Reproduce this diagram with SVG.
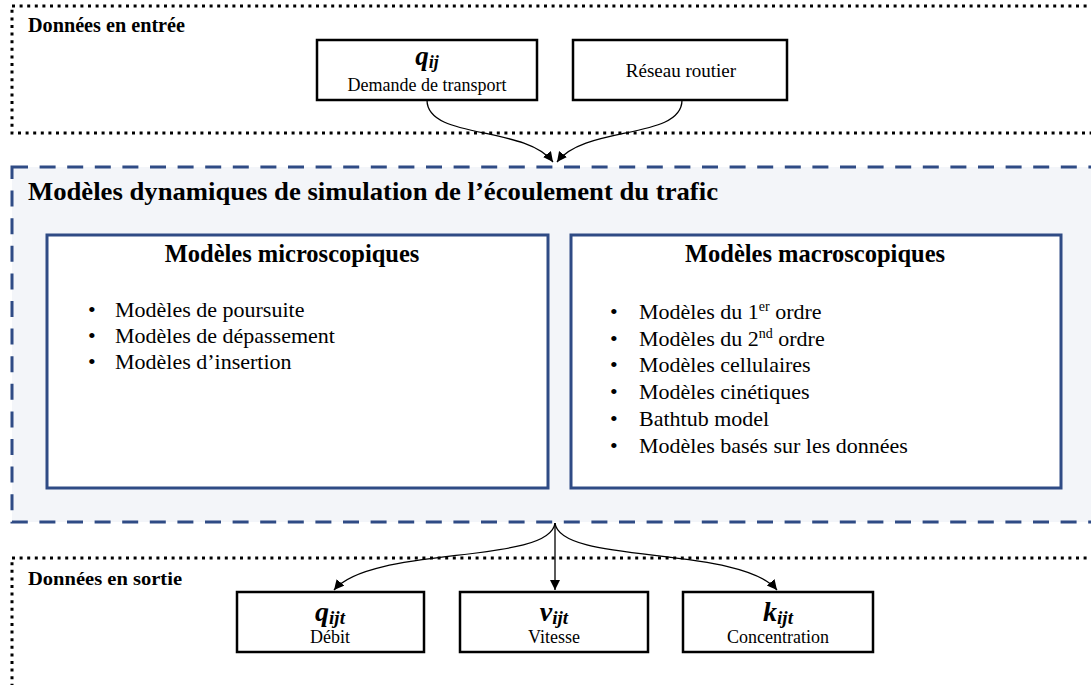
<svg xmlns="http://www.w3.org/2000/svg" width="1091" height="685" viewBox="0 0 1091 685">
<style>
.serif{font-family:"Liberation Serif","Times New Roman",serif;fill:#000}
.b{font-weight:bold}
.math{font-family:"Liberation Serif","Times New Roman",serif;font-weight:bold;font-style:italic;fill:#000}
.dot{fill:none;stroke:#000;stroke-width:3;stroke-dasharray:3 4.6}
.dash{fill:#F3F5F9;stroke:#2F4B85;stroke-width:3;stroke-dasharray:16 11.6}
.inner{fill:#fff;stroke:#2F4B85;stroke-width:3}
.node{fill:#fff;stroke:#000;stroke-width:2.5}
.conn{fill:none;stroke:#000;stroke-width:1.3}
.item{font-size:22px}
</style>
<defs>
<marker id="ah" markerWidth="12" markerHeight="12" refX="10" refY="5" orient="auto" markerUnits="userSpaceOnUse">
<path d="M0,0 L10,5 L0,10 Z" fill="#000"/>
</marker>
</defs>
<rect width="1091" height="685" fill="#fff"/>

<g id="input-zone">
<rect class="dot" x="12" y="6" width="1100" height="127"/>
<text class="serif b" x="28" y="32" font-size="20" textLength="157" lengthAdjust="spacingAndGlyphs">Données en entrée</text>
</g>

<g id="model-zone">
<rect class="dash" x="12" y="167" width="1100" height="355"/>
<text class="serif b" x="28" y="200" font-size="25" textLength="690" lengthAdjust="spacingAndGlyphs">Modèles dynamiques de simulation de l’écoulement du trafic</text>
</g>

<g id="output-zone">
<rect class="dot" x="12" y="558" width="1100" height="150"/>
<text class="serif b" x="28" y="585" font-size="19" textLength="154" lengthAdjust="spacingAndGlyphs">Données en sortie</text>
</g>

<g id="node-demande">
<rect class="node" x="317" y="40" width="220" height="60"/>
<text class="math" x="427" y="65" text-anchor="middle" font-size="27">q<tspan font-size="18" dy="3">ij</tspan></text>
<text class="serif" x="427" y="91" text-anchor="middle" font-size="18">Demande de transport</text>
</g>

<g id="node-reseau">
<rect class="node" x="573" y="40" width="214" height="60"/>
<text class="serif" x="681" y="77" text-anchor="middle" font-size="19">Réseau routier</text>
</g>

<g id="node-micro">
<rect class="inner" x="47" y="235" width="501" height="253"/>
<text class="serif b" x="292" y="262" text-anchor="middle" font-size="24.5">Modèles microscopiques</text>
<g class="serif item">
<text x="88" y="317">•</text><text x="115" y="317">Modèles de poursuite</text>
<text x="88" y="343">•</text><text x="115" y="343">Modèles de dépassement</text>
<text x="88" y="369">•</text><text x="115" y="369">Modèles d’insertion</text>
</g>
</g>

<g id="node-macro">
<rect class="inner" x="571" y="235" width="490" height="253"/>
<text class="serif b" x="815" y="262" text-anchor="middle" font-size="24.5">Modèles macroscopiques</text>
<g class="serif item">
<text x="610" y="319">•</text><text x="639" y="319">Modèles du 1<tspan font-size="14" dy="-8">er</tspan><tspan dy="8"> ordre</tspan></text>
<text x="610" y="346">•</text><text x="639" y="346">Modèles du 2<tspan font-size="14" dy="-8">nd</tspan><tspan dy="8"> ordre</tspan></text>
<text x="610" y="372">•</text><text x="639" y="372">Modèles cellulaires</text>
<text x="610" y="399">•</text><text x="639" y="399">Modèles cinétiques</text>
<text x="610" y="426">•</text><text x="639" y="426">Bathtub  model</text>
<text x="610" y="453">•</text><text x="639" y="453">Modèles basés sur les données</text>
</g>
</g>

<g id="node-debit">
<rect class="node" x="237" y="592" width="187" height="60"/>
<text class="math" x="330" y="621" text-anchor="middle" font-size="28">q<tspan font-size="19" dy="3">ijt</tspan></text>
<text class="serif" x="330" y="643" text-anchor="middle" font-size="18">Débit</text>
</g>

<g id="node-vitesse">
<rect class="node" x="460" y="592" width="188" height="60"/>
<text class="math" x="554" y="621" text-anchor="middle" font-size="28">v<tspan font-size="19" dy="3">ijt</tspan></text>
<text class="serif" x="554" y="643" text-anchor="middle" font-size="18">Vitesse</text>
</g>

<g id="node-concentration">
<rect class="node" x="683" y="592" width="190" height="60"/>
<text class="math" x="778" y="621" text-anchor="middle" font-size="28">k<tspan font-size="19" dy="3">ijt</tspan></text>
<text class="serif" x="778" y="643" text-anchor="middle" font-size="18">Concentration</text>
</g>

<g id="connectors">
<path class="conn" d="M427,100 C427,140 525,125 553,162" marker-end="url(#ah)"/>
<path class="conn" d="M682,100 C682,140 585,125 557,162" marker-end="url(#ah)"/>
<path class="conn" d="M555,523 C550,565 372,545 334,590" marker-end="url(#ah)"/>
<path class="conn" d="M555,523 L555,590" marker-end="url(#ah)"/>
<path class="conn" d="M555,523 C560,565 740,545 777,590" marker-end="url(#ah)"/>
</g>
</svg>
